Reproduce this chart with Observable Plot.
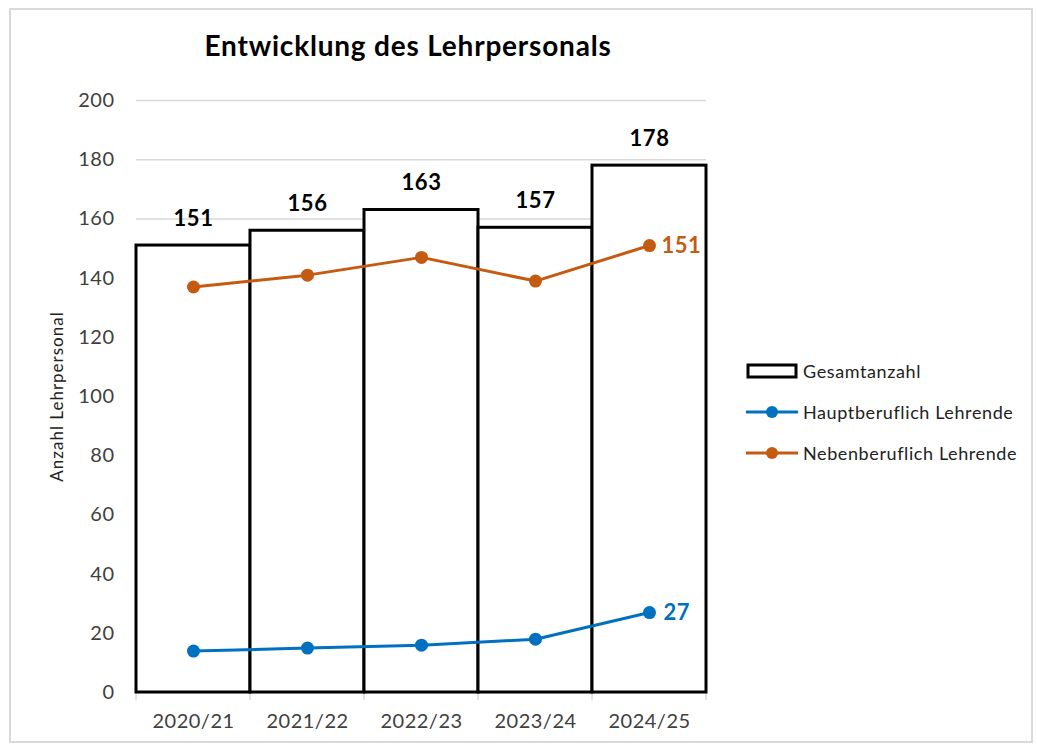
<!DOCTYPE html>
<html>
<head>
<meta charset="utf-8">
<script src="https://cdn.jsdelivr.net/npm/d3@7"></script>
<script src="https://cdn.jsdelivr.net/npm/@observablehq/plot@0.6"></script>
<style>
  body { margin: 0; background: #fff; }
  #wrap { position: relative; width: 1037px; height: 747px; font-family: Lato, "Open Sans", sans-serif; }
  #frame { position: absolute; left: 9px; top: 8px; width: 1024px; height: 735px; border: 2px solid #d9d9d9; box-sizing: border-box; }
  #title { position: absolute; left: 0; width: 816px; top: 28px; text-align: center; font-weight: bold; font-size: 28px; letter-spacing: 0.8px; color: #000; }
  #chart { position: absolute; left: 0; top: 0; }
  #legend { position: absolute; left: 746px; top: 350px; font-size: 18px; letter-spacing: 0.6px; color: #222; }
  .li { display: flex; align-items: center; height: 41px; }
  .li svg { margin-right: 5px; }
</style>
</head>
<body>
<div id="wrap">
  <div id="frame"></div>
  <div id="chart"></div>
  <div id="title">Entwicklung des Lehrpersonals</div>
  <div id="legend"></div>
</div>
<script>
const years = ["2020/21", "2021/22", "2022/23", "2023/24", "2024/25"];
const gesamt = [151, 156, 163, 157, 178];
const haupt = [14, 15, 16, 18, 27];
const neben = [137, 141, 147, 139, 151];
const yTicks = [0, 20, 40, 60, 80, 100, 120, 140, 160, 180, 200];
const seriesNames = ["Gesamtanzahl", "Hauptberuflich Lehrende", "Nebenberuflich Lehrende"];
const yTitle = "Anzahl Lehrpersonal";
const colors = { haupt: "#0070c0", neben: "#c55a11" };

const rows = years.map((y, i) => ({ year: y, gesamt: gesamt[i], haupt: haupt[i], neben: neben[i] }));
const last = rows[rows.length - 1];

// boundary ticks below the baseline, using the x band scale
function boundaryTicks(index, scales, values, dims) {
  const g = d3.create("svg:g");
  const bw = scales.x.bandwidth();
  const y0 = scales.y(0);
  const xs = years.map(y => scales.x(y)).concat([scales.x(years[years.length - 1]) + bw]);
  for (const x of xs) {
    g.append("line").attr("x1", x).attr("x2", x).attr("y1", y0).attr("y2", y0 + 8)
      .attr("stroke", "#d9d9d9").attr("stroke-width", 1.5);
  }
  return g.node();
}

const font = "Lato, 'Open Sans', sans-serif";

const plot = Plot.plot({
  width: 1037,
  height: 747,
  marginLeft: 136,
  marginRight: 331,
  marginTop: 100,
  marginBottom: 55,
  style: { fontFamily: font, background: "transparent", overflow: "visible" },
  x: { domain: years, padding: 0 },
  y: { domain: [0, 200] },
  marks: [
    Plot.gridY(yTicks, { stroke: "#d9d9d9", strokeOpacity: 1, strokeWidth: 1.5 }),
    Plot.axisY(yTicks, { tickSize: 0, tickPadding: 22, fontSize: 20, fill: "#404040", label: null }),
    Plot.text([yTitle], { frameAnchor: "left", textAnchor: "middle", dx: -79, rotate: -90, fontSize: 17, fill: "#222" }),
    Plot.axisX({ tickSize: 0, tickPadding: 21, fontSize: 20, fill: "#404040", label: null }),
    boundaryTicks,
    Plot.barY(rows, { x: "year", y: "gesamt", fill: "white", stroke: "black", strokeWidth: 3, inset: 0 }),
    Plot.text(rows, { x: "year", y: "gesamt", text: d => String(d.gesamt), dy: -27, fontSize: 22, fontWeight: "bold", fill: "#000" }),
    Plot.line(rows, { x: "year", y: "neben", stroke: colors.neben, strokeWidth: 3 }),
    Plot.dot(rows, { x: "year", y: "neben", fill: colors.neben, r: 6.5 }),
    Plot.line(rows, { x: "year", y: "haupt", stroke: colors.haupt, strokeWidth: 3 }),
    Plot.dot(rows, { x: "year", y: "haupt", fill: colors.haupt, r: 6.5 }),
    Plot.text([last], { x: "year", y: "neben", text: d => String(d.neben), dx: 12, textAnchor: "start", fontSize: 22, fontWeight: "bold", fill: colors.neben }),
    Plot.text([last], { x: "year", y: "haupt", text: d => String(d.haupt), dx: 14, textAnchor: "start", fontSize: 22, fontWeight: "bold", fill: colors.haupt })
  ]
});
d3.select(plot).selectAll("text").style("letter-spacing", function() {
  return this.textContent === yTitle ? "1px" : "0.5px";
});
document.getElementById("chart").appendChild(plot);

// legend
const legend = d3.select("#legend");
const swatches = [
  s => { s.append("rect").attr("x", 2).attr("y", 7).attr("width", 48).attr("height", 12).attr("fill", "white").attr("stroke", "black").attr("stroke-width", 3); },
  s => { s.append("line").attr("x1", 0).attr("x2", 52).attr("y1", 13).attr("y2", 13).attr("stroke", colors.haupt).attr("stroke-width", 3);
         s.append("circle").attr("cx", 26).attr("cy", 13).attr("r", 6).attr("fill", colors.haupt); },
  s => { s.append("line").attr("x1", 0).attr("x2", 52).attr("y1", 13).attr("y2", 13).attr("stroke", colors.neben).attr("stroke-width", 3);
         s.append("circle").attr("cx", 26).attr("cy", 13).attr("r", 6).attr("fill", colors.neben); }
];
seriesNames.forEach((name, i) => {
  const item = legend.append("div").attr("class", "li");
  const s = item.append("svg").attr("width", 52).attr("height", 26);
  swatches[i](s);
  item.append("span").text(name);
});
</script>
</body>
</html>
